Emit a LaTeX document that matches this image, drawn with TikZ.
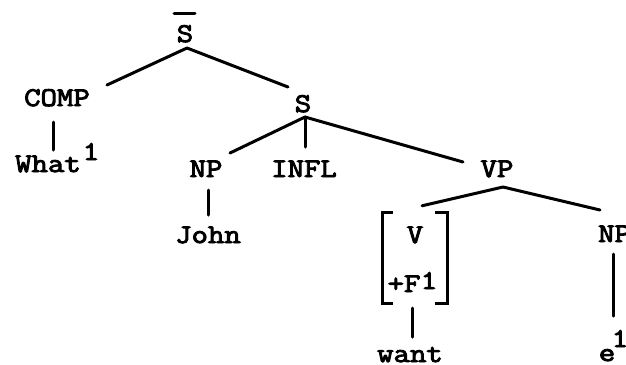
\documentclass[tikz,border=0pt]{standalone}
\usepackage{fontspec}
\newfontfamily\typewriter[FakeStretch=1.18,FakeBold=3.5]{Latin Modern Mono}
\usetikzlibrary{calc}
\begin{document}
\begin{tikzpicture}[x=1bp,y=-1bp,
  lbl/.style={inner sep=0pt, anchor=base,
    font=\typewriter\fontsize{27bp}{29bp}\selectfont},
  branch/.style={line width=3bp, line cap=round, line join=round},
  bracket/.style={line width=3bp, line cap=butt, line join=miter}]
\useasboundingbox (0,0) rectangle (626,364);
\clip (0,0) rectangle (626,364);

% category labels and words (placed by baseline)
\node[lbl] (sbar) at (185,42)  {S};
\node[lbl] (comp) at (57,106)  {COMP};
\node[lbl] (what) at (48,172)  {What};
\node[lbl] (what1) at (91,160) {1};
\node[lbl] (s)    at (303,112) {S};
\node[lbl] (np)   at (206,177) {NP};
\node[lbl] (infl) at (304,177) {INFL};
\node[lbl] (vp)   at (497,177) {VP};
\node[lbl] (john) at (208,243) {John};
\node[lbl] (v)    at (415,243) {V};
\node[lbl] (f)    at (404,292) {+F};
\node[lbl] (f1)   at (429,289) {1};
\node[lbl] (want) at (410,362) {want};
\node[lbl, anchor=base west] (np2) at (598,242) {NP};
\node[lbl] (e)    at (607,361) {e};
\node[lbl] (e1)   at (620,347) {1};

% feature matrix frame around V / +F
\node[minimum width=64bp, minimum height=90bp, inner sep=0pt] (feat) at (415,258) {};
\draw[bracket] ($(feat.north west)+(10,0)$) -- (feat.north west)
  -- (feat.south west) -- ($(feat.south west)+(10,0)$);
\draw[bracket] ($(feat.north east)+(-12,0)$) -- (feat.north east)
  -- (feat.south east) -- ($(feat.south east)+(-12,0)$);

% bar over the top S
\draw[branch] ($(sbar.base)+(-11,-29)$) -- ($(sbar.base)+(10,-29)$);

% branches
\draw[branch] ($(sbar.base)+(2,6)$) -- ($(comp.base)+(50,-21)$);
\draw[branch] ($(sbar.base)+(2,6)$) -- ($(s.base)+(-15,-25)$);
\draw[branch] ($(comp.base)+(-4,16)$) -- ($(what.base)+(5,-22)$);
\draw[branch] ($(s.base)+(2,5)$) -- ($(np.base)+(24,-24)$);
\draw[branch] ($(s.base)+(2,5)$) -- ($(infl.base)+(1,-30)$);
\draw[branch] ($(s.base)+(2,5)$) -- ($(vp.base)+(-34,-15)$);
\draw[branch] ($(np.base)+(2,13)$) -- ($(john.base)+(0,-28)$);
\draw[branch] ($(vp.base)+(6,10)$) -- ($(feat.north)+(7,-7)$);
\draw[branch] ($(vp.base)+(6,10)$) -- ($(np2.base west)+(2,-32)$);
\draw[branch] ($(feat.south)+(-3,5)$) -- ($(want.base)+(2,-25)$);
\draw[branch] ($(np2.base west)+(15,12)$) -- ($(e.base)+(6,-45)$);
\end{tikzpicture}
\end{document}
